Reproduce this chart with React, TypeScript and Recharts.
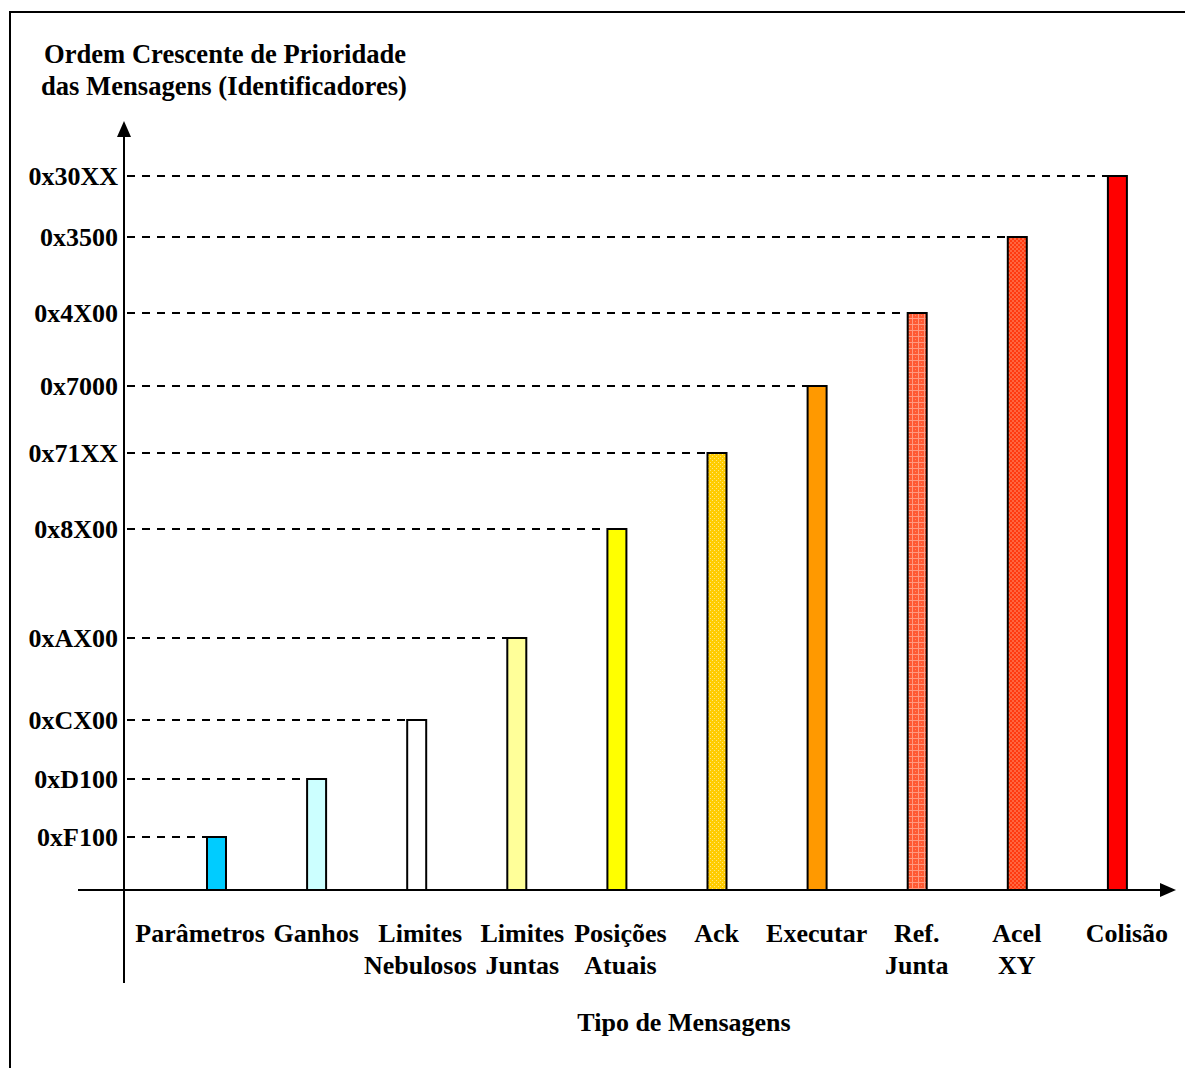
import { BarChart, Bar, XAxis, YAxis, Customized } from 'recharts';

// tipos de mensagem, da menor para a maior prioridade
const categories = [
  'Parâmetros', 'Ganhos', 'Limites Nebulosos', 'Limites Juntas', 'Posições Atuais',
  'Ack', 'Executar', 'Ref. Junta', 'Acel XY', 'Colisão',
];
const priority = [53, 111, 170, 252, 361, 437, 504, 577, 653, 714];
// identificadores mostrados no eixo vertical
const idLabels = [
  '0xF100', '0xD100', '0xCX00', '0xAX00', '0x8X00',
  '0x71XX', '0x7000', '0x4X00', '0x3500', '0x30XX',
];

const fills = [
  '#00CCFF', '#CCFFFF', '#FFFFFF', '#FFFF99', '#FFFF00',
  'url(#dotAck)', '#FF9900', 'url(#plaidRef)', 'url(#checkAcel)', '#FF0000',
];
// pequeno deslocamento horizontal dos rótulos, como no desenho original
const labelShift = [-16, 0, 4, 6, 4, 0, 0, 0, 0, 10];

const data = categories.map((name, i) => ({ name, level: priority[i] }));

const FONT = '"Liberation Serif", "Times New Roman", serif';
const W = 1185;
const H = 1068;
const PLOT_LEFT = 124;
const BASE_Y = 890;

const Decorations = () => (
  <g>
    <defs>
      <pattern id="dotAck" width="4" height="4" patternUnits="userSpaceOnUse">
        <rect width="4" height="4" fill="#FFCC00" />
        <rect x="0" y="0" width="1" height="1" fill="#FFE680" />
        <rect x="2" y="2" width="1" height="1" fill="#FFE680" />
      </pattern>
      <pattern id="plaidRef" width="6" height="6" patternUnits="userSpaceOnUse">
        <rect width="6" height="6" fill="#FF5A33" />
        <rect x="0" y="0" width="6" height="1" fill="#FF9980" />
        <rect x="0" y="0" width="1" height="6" fill="#FF9980" />
        <rect x="3" y="3" width="1" height="1" fill="#FF8866" />
      </pattern>
      <pattern id="checkAcel" width="4" height="4" patternUnits="userSpaceOnUse">
        <rect width="4" height="4" fill="#FF3A10" />
        <rect x="0" y="0" width="2" height="2" fill="#FF6640" />
        <rect x="2" y="2" width="2" height="2" fill="#FF6640" />
      </pattern>
    </defs>
    <rect x={10} y={12} width={W + 40} height={H + 40} fill="none" stroke="#000" strokeWidth={2} />
    <text x={44} y={63} fontFamily={FONT} fontSize={26.6} fontWeight="bold" fill="#000">
      Ordem Crescente de Prioridade
    </text>
    <text x={41} y={95} fontFamily={FONT} fontSize={26.6} fontWeight="bold" fill="#000">
      das Mensagens (Identificadores)
    </text>
    <text x={684} y={1031} textAnchor="middle" fontFamily={FONT} fontSize={26} fontWeight="bold" fill="#000">
      Tipo de Mensagens
    </text>
    {/* eixos com setas */}
    <line x1={PLOT_LEFT} y1={134} x2={PLOT_LEFT} y2={983} stroke="#000" strokeWidth={2} />
    <polygon points={`${PLOT_LEFT},121 ${PLOT_LEFT - 7},137 ${PLOT_LEFT + 7},137`} fill="#000" />
    <line x1={78} y1={BASE_Y} x2={1163} y2={BASE_Y} stroke="#000" strokeWidth={2} />
    <polygon points={`1176,${BASE_Y} 1160,${BASE_Y - 7} 1160,${BASE_Y + 7}`} fill="#000" />
  </g>
);

const BarWithGuide = (props: any) => {
  const { x, y, width, height, index } = props;
  return (
    <g>
      <line x1={PLOT_LEFT + 3} y1={y} x2={x} y2={y} stroke="#000" strokeWidth={2} strokeDasharray="8 7" />
      <rect x={x} y={y} width={width} height={height} fill={fills[index]} stroke="#000" strokeWidth={2} />
    </g>
  );
};

const CategoryTick = (props: any) => {
  const { x, y, payload, index } = props;
  const words = String(payload.value).split(' ');
  const cx = x + (labelShift[index] ?? 0);
  return (
    <text x={cx} y={y} textAnchor="middle" fontFamily={FONT} fontSize={26} fontWeight="bold" fill="#000">
      {words.map((w, i) => (
        <tspan key={i} x={cx} dy={i === 0 ? 44 : 32}>{w}</tspan>
      ))}
    </text>
  );
};

export default function App() {
  return (
    <div style={{ position: 'absolute', left: 0, top: 0, width: W, height: H, overflow: 'hidden', background: '#fff' }}>
      <BarChart width={W} height={H} data={data} margin={{ top: 122, right: 10, bottom: 78, left: 0 }}>
        <Customized component={<Decorations />} />
        <YAxis
          type="number"
          width={124}
          domain={[0, 768]}
          ticks={priority}
          interval={0}
          axisLine={false}
          tickLine={false}
          tickSize={4}
          tickFormatter={(v: number) => idLabels[priority.indexOf(v)] ?? ''}
          tick={{ fontFamily: FONT, fontSize: 26, fontWeight: 'bold', fill: '#000' }}
        />
        <XAxis
          dataKey="name"
          height={100}
          interval={0}
          padding={{ left: 42, right: 8 }}
          axisLine={false}
          tickLine={false}
          tick={<CategoryTick />}
        />
        <Bar dataKey="level" barSize={19} shape={<BarWithGuide />} isAnimationActive={false} />
      </BarChart>
    </div>
  );
}
